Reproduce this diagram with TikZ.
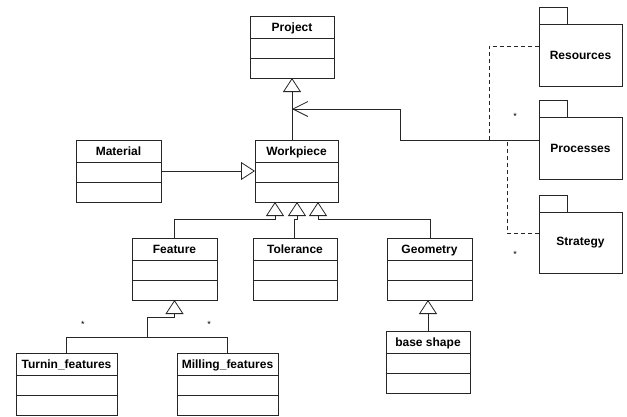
\documentclass[tikz,border=0pt]{standalone}
\usepackage{fontspec}
\setmainfont{Liberation Sans}
\usetikzlibrary{arrows.meta,calc}
\tikzset{
  ln/.style={line width=0.8pt, draw=black!85},
  clsbox/.style={ln, minimum height=62pt, inner sep=0pt, outer sep=0pt},
  clstitle/.style={font=\bfseries\fontsize{12}{14}\selectfont, inner sep=0pt, anchor=base},
  gen/.style={ln, -{Triangle[open, length=14pt, width=18pt]}},
  nav/.style={ln, -{Straight Barb[length=15pt, width=15pt]}},
  dep/.style={ln, dash pattern=on 4pt off 3pt},
  pkgbody/.style={ln, minimum width=83pt, minimum height=62pt, inner sep=0pt, outer sep=0pt, anchor=north west, font=\bfseries\fontsize{12}{14}\selectfont},
  pkgtab/.style={ln, minimum width=28pt, minimum height=17pt, inner sep=0pt, outer sep=0pt, anchor=south west},
  mult/.style={font=\fontsize{9}{10}\selectfont, inner sep=0pt}
}
\newcommand\umlclass[5]{%
  \node[clsbox, minimum width=#4pt, anchor=north] (#1) at (#2,-#3) {};
  \node[clstitle] (#1-t) at ($(#1.north)+(0,-15)$) {#5};
  \draw[ln] ($(#1.north west)+(0,-22)$) -- ($(#1.north east)+(0,-22)$);
  \draw[ln] ($(#1.north west)+(0,-42)$) -- ($(#1.north east)+(0,-42)$);
}
\begin{document}
\begin{tikzpicture}[x=1pt, y=1pt]
\useasboundingbox (0,0) rectangle (627,-416);
% classes
\umlclass{proj}{292}{16}{84}{Project}
\umlclass{wp}{296.5}{140}{83}{Workpiece}
\umlclass{mat}{118.5}{140}{85}{Material}
\umlclass{feat}{174.5}{238}{85}{Feature}
\umlclass{tol}{295}{238}{84}{Tolerance}
\umlclass{geo}{429.5}{238}{85}{Geometry}
\umlclass{base}{428}{331}{84}{base shape}
\umlclass{turn}{66.5}{353}{101}{Turnin\_features}
\umlclass{mill}{227.5}{353}{101}{Milling\_features}
% packages
\node[pkgbody] (res) at (539,-24) {Resources};
\node[pkgtab] (res-tab) at (res.north west) {};
\node[pkgbody] (proc) at (539,-117) {Processes};
\node[pkgtab] (proc-tab) at (proc.north west) {};
\node[pkgbody, minimum height=61pt] (strat) at (539,-212) {Strategy};
\node[pkgtab] (strat-tab) at (strat.north west) {};
% generalizations
\draw[gen] (wp.north -| proj.south) -- (proj.south);
\draw[gen] (mat.east) -- (wp.west);
\coordinate (t1) at (275,-202);
\coordinate (t2) at (297,-202);
\coordinate (t3) at (318,-202);
\draw[gen] (feat.north) |- ($(t1)+(0,-17)$) -- (t1);
\draw[gen] ($(tol.north)+(-1,0)$) |- ($(t2)+(0,-17)$) -- (t2);
\draw[gen] ($(geo.north)+(0.5,0)$) |- ($(t3)+(0,-17)$) -- (t3);
\draw[gen] (base.north) -- (base.north |- geo.south);
\coordinate (fj) at (147,-337);
\draw[ln] (turn.north) |- (fj);
\draw[ln] (mill.north) |- (fj);
\draw[gen] (fj) |- ($(feat.south)+(0,-17)$) -- (feat.south);
% association to Processes
\coordinate (ptarget) at (292,-109);
\draw[nav] ($(proc.north west)+(0,-23)$) -| ($(ptarget)+(108,0)$) -- (ptarget);
% dependencies
\draw[dep] ($(res.north west)+(0,-22)$) -| (489,-140) -- ($(proc.north west)+(0,-23)$);
\draw[dep] ($(strat.north west)+(0,-21)$) -| (507,-140);
% multiplicities
\node[mult] (m1) at (83,-324) {*};
\node[mult] (m2) at (209,-324) {*};
\node[mult] (m3) at (515,-116) {*};
\node[mult] (m4) at (515,-254) {*};
\end{tikzpicture}
\end{document}
